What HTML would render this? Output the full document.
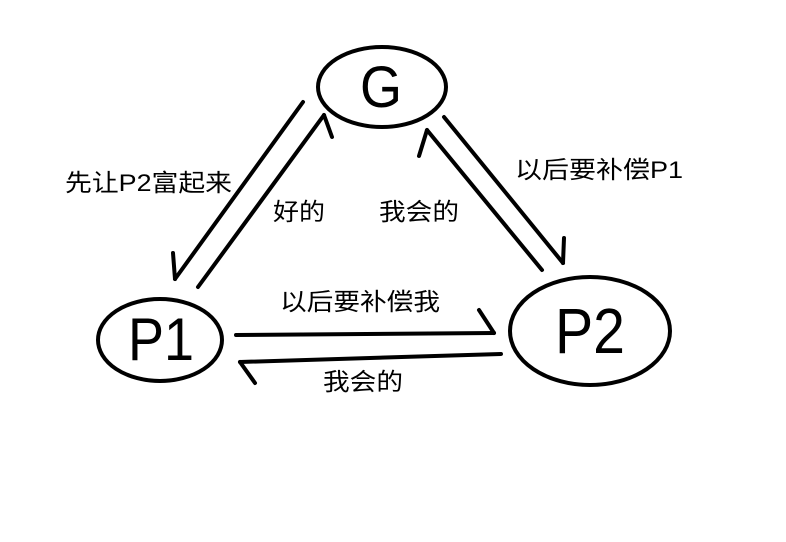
<!DOCTYPE html>
<html><head><meta charset="utf-8"><style>html,body{margin:0;padding:0;background:#fff}svg{display:block}</style></head>
<body>
<svg width="786" height="542" viewBox="0 0 786 542" xmlns="http://www.w3.org/2000/svg">
<rect width="786" height="542" fill="#fff"/>
<g fill="none" stroke="#000" stroke-width="4" stroke-linecap="round">
<ellipse cx="382" cy="87" rx="64" ry="40"/>
<ellipse cx="160" cy="340" rx="62" ry="41"/>
<ellipse cx="590" cy="331" rx="80" ry="54"/>
<line x1="303" y1="102" x2="175" y2="279"/><line x1="175" y1="279" x2="173" y2="253"/>
<line x1="198" y1="287" x2="324" y2="115"/><line x1="324" y1="115" x2="332" y2="137"/>
<line x1="542" y1="270" x2="427" y2="130"/><line x1="427" y1="130" x2="419" y2="156"/>
<line x1="444" y1="117" x2="563" y2="263"/><line x1="563" y1="263" x2="564" y2="238"/>
<line x1="236" y1="335" x2="494" y2="333"/><line x1="494" y1="333" x2="479" y2="310"/>
<line x1="501" y1="354" x2="240" y2="362"/><line x1="240" y1="362" x2="255" y2="383"/>
</g>
<g font-family="Liberation Sans, Noto Sans CJK SC, sans-serif" fill="#000">
<text x="381" y="107" font-size="58" text-anchor="middle" textLength="42" lengthAdjust="spacingAndGlyphs">G</text>
<text x="161" y="360" font-size="60" text-anchor="middle" textLength="66" lengthAdjust="spacingAndGlyphs">P1</text>
<text x="590" y="353" font-size="64" text-anchor="middle" textLength="70" lengthAdjust="spacingAndGlyphs">P2</text>
<g font-size="24">
<text x="65" y="191" textLength="167" lengthAdjust="spacingAndGlyphs">先让P2富起来</text>
<text x="273" y="220" textLength="52" lengthAdjust="spacingAndGlyphs">好的</text>
<text x="379" y="220" textLength="80" lengthAdjust="spacingAndGlyphs">我会的</text>
<text x="515" y="178" textLength="168" lengthAdjust="spacingAndGlyphs">以后要补偿P1</text>
<text x="280" y="310" textLength="160" lengthAdjust="spacingAndGlyphs">以后要补偿我</text>
<text x="323" y="390" textLength="80" lengthAdjust="spacingAndGlyphs">我会的</text>
</g>
</g>
</svg>
</body></html>
